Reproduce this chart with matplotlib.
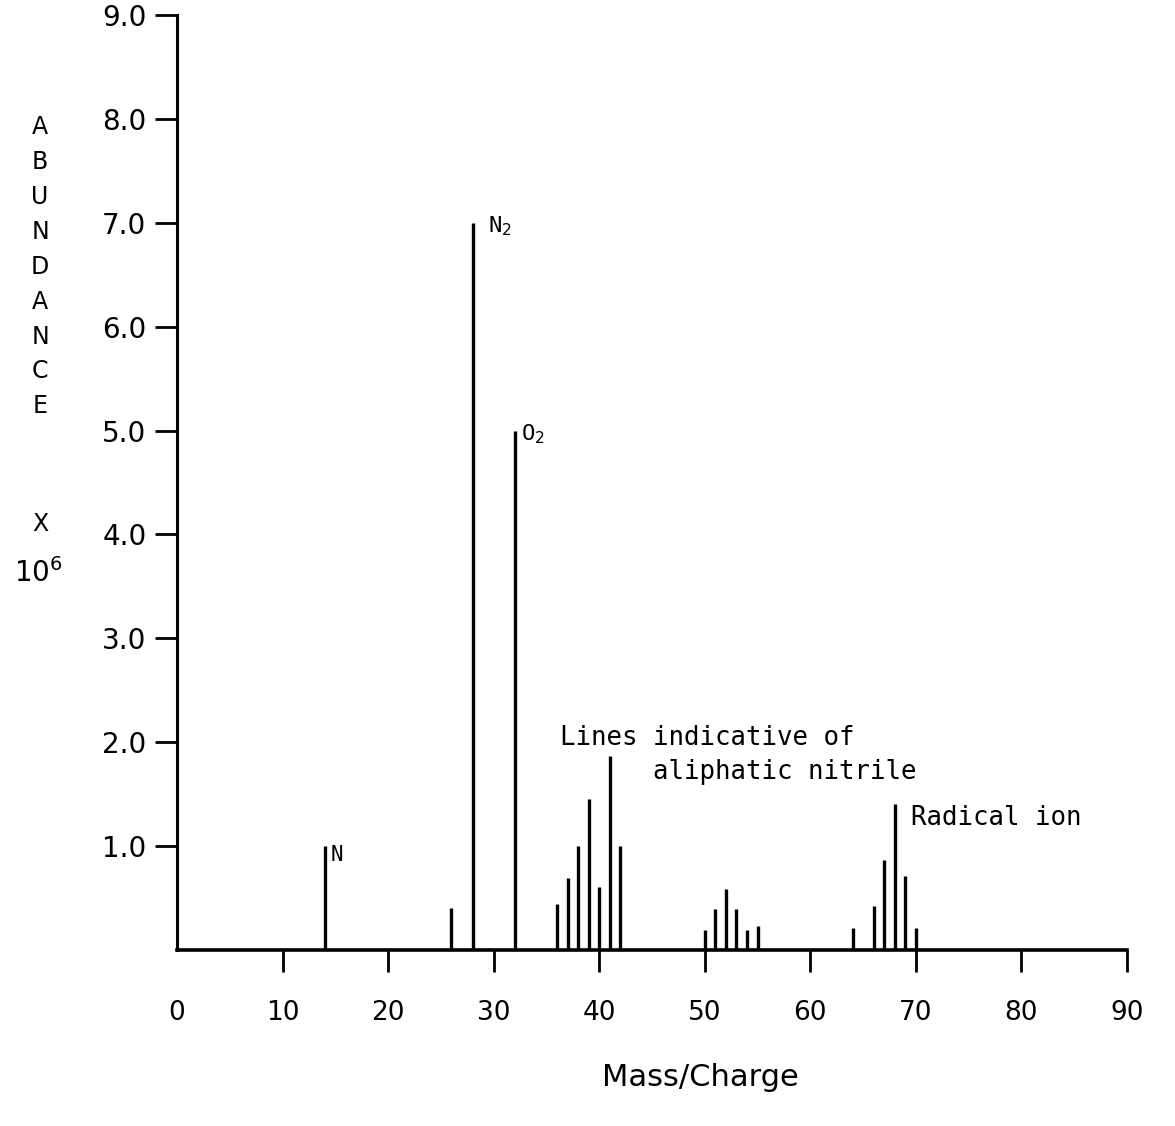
import matplotlib
matplotlib.use("Agg")
import matplotlib.pyplot as plt

# mass/charge peaks and abundance (x 10^6)
massas = [14, 26, 28, 32, 36, 37, 38, 39, 40, 41, 42,
          50, 51, 52, 53, 54, 55, 64, 66, 67, 68, 69, 70]
abund = [1.0, 0.40, 7.0, 5.0, 0.44, 0.69, 1.0, 1.45, 0.61, 1.87, 1.0,
         0.19, 0.39, 0.59, 0.39, 0.19, 0.23, 0.21, 0.42, 0.87, 1.41, 0.71, 0.21]

xticks = list(range(0, 91, 10))
yticks = [1, 2, 3, 4, 5, 6, 7, 8, 9]
ylabels = ["%.1f" % v for v in yticks]

fig = plt.figure(figsize=(11.75, 11.26), dpi=100)
ax = fig.add_axes([0.1506, 0.1563, 0.8085, 0.8304])

ax.vlines(massas, 0, abund, colors="black", linewidth=2.4)

ax.set_xlim(0, 90)
ax.set_ylim(0, 9)
ax.spines["top"].set_visible(False)
ax.spines["right"].set_visible(False)
ax.spines["left"].set_linewidth(2.2)
ax.spines["bottom"].set_linewidth(2.6)

ax.set_xticks(xticks)
ax.set_xticklabels([str(v) for v in xticks], fontsize=19)
ax.set_yticks(yticks)
ax.set_yticklabels(ylabels, fontsize=20)
ax.tick_params(axis="both", direction="out", length=16, width=2, color="black")
ax.tick_params(axis="x", pad=20)
ax.tick_params(axis="y", pad=6)
ax.xaxis.get_major_ticks()[0].tick1line.set_visible(False)

# annotations
mono = "DejaVu Sans Mono"
ax.text(14.6, 0.82, "N", fontsize=15, family=mono, ha="left", va="bottom")
ax.text(29.5, 6.85, r"N$_2$", fontsize=16, family=mono, ha="left", va="bottom")
ax.text(32.6, 4.85, r"O$_2$", fontsize=16, family=mono, ha="left", va="bottom")
ax.text(36.3, 2.04, "Lines indicative of", fontsize=18.5,
        family=mono, ha="left", va="center")
ax.text(45.1, 1.71, "aliphatic nitrile", fontsize=18.5,
        family=mono, ha="left", va="center")
ax.text(69.5, 1.15, "Radical ion", fontsize=18.5, family=mono, ha="left", va="bottom")

# vertical axis title
letras = "A\nB\nU\nN\nD\nA\nN\nC\nE"
fig.text(40 / 1175, 1 - 115 / 1126, letras, fontsize=17, ha="center", va="top",
         linespacing=1.575)
fig.text(40 / 1175, 1 - 512 / 1126, "X", fontsize=17, ha="center", va="top")
fig.text(38 / 1175, 1 - 558 / 1126, r"10$^{6}$", fontsize=20, ha="center", va="top")

fig.text(700 / 1175, 1 - 1078 / 1126, "Mass/Charge", fontsize=22, ha="center", va="center")

fig.savefig("out.png", dpi=100)
